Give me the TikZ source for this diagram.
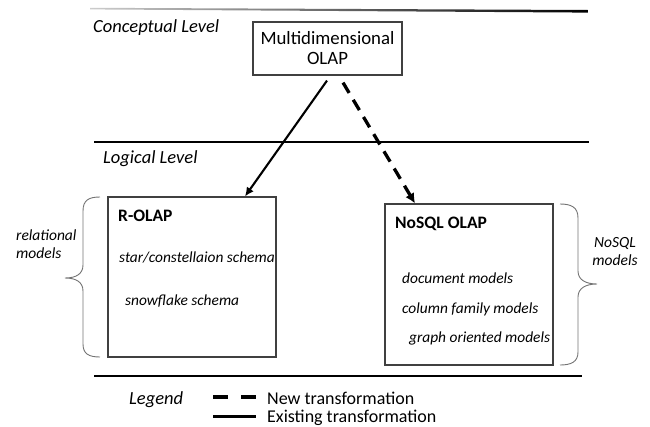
\documentclass[tikz,border=0pt]{standalone}
\usepackage{fontspec}
\setmainfont{Carlito}
\usetikzlibrary{arrows.meta}
\newcommand\fsz[2]{\fontsize{#1}{#2}\selectfont}
\begin{document}
\begin{tikzpicture}[x=1pt,y=-1pt,
  levellbl/.style={inner sep=0pt, anchor=base west, font=\fsz{18.5}{21}\itshape},
  boxtitle/.style={inner sep=0pt, anchor=base west, font=\fsz{17.5}{21}\bfseries},
  item/.style={inner sep=0pt, anchor=base west, font=\fsz{15.4}{18}\itshape},
  side/.style={inner sep=0pt, font=\fsz{15.5}{18}\itshape},
  modelbox/.style={draw=black!75, line width=1.2pt, minimum width=168pt, inner sep=0pt},
  brace/.style={draw=black!55, line width=0.9pt},
  level/.style={line width=1.7pt},
  existing/.style={line width=2.1pt, -{Latex[length=9pt,width=8.5pt]}},
  newtr/.style={line width=3.3pt, dash pattern=on 12pt off 8pt, -{Latex[length=10pt,width=10pt]}},
  legendtxt/.style={inner sep=0pt, anchor=base west, font=\fsz{18}{21}}
]
\useasboundingbox (0,0) rectangle (650,426);

% level separators
\shade[left color=black!20, right color=black] (90,7.8) -- (588,10) -- (588,12.6) -- (90,9.4) -- cycle;
\draw[level] (94,142) -- (589,142);
\draw[line width=2pt] (94,376) -- (582,376);

% level labels
\node[levellbl] (cl) at (93,32) {Conceptual Level};
\node[levellbl] (ll) at (103,163) {Logical Level};

% conceptual box
\node[draw=black!75, line width=1.2pt, minimum width=149pt, minimum height=53pt, inner sep=0pt,
      align=center, font=\fsz{18.8}{20}] (m) at (327.5,48.5) {Multidimensional\\OLAP};

% logical boxes
\node[modelbox, minimum height=160pt] (r) at (192,277) {};
\node[modelbox, minimum height=161pt] (n) at (469,284.5) {};

\node[boxtitle] (rt) at (118,221) {R-OLAP};
\node[item] (r1) at (119,262) {star/constellaion schema};
\node[item] (r2) at (125,305) {snowflake schema};

\node[boxtitle] (nt) at (395,228) {NoSQL OLAP};
\node[item] (n1) at (402,283) {document models};
\node[item] (n2) at (402,313) {column family models};
\node[item] (n3) at (409,342) {graph oriented models};

% braces
\draw[brace] (100,197) .. controls (89,197) and (83,200) .. (83,211) -- (83,265)
  .. controls (83,274) and (76,278) .. (65,278)
  .. controls (76,278) and (83,282) .. (83,291) -- (83,344)
  .. controls (83,354) and (89,357) .. (100,357);
\draw[brace] (560,204) .. controls (571,204) and (578,207) .. (578,218) -- (578,271)
  .. controls (578,280) and (586,284) .. (597,284)
  .. controls (586,284) and (578,288) .. (578,297) -- (578,352)
  .. controls (578,362) and (571,365) .. (560,365);

\node[side, anchor=west, align=left] (rl) at (16,244) {relational\\models};
\node[side, align=center] (nl) at (615,252) {NoSQL\\models};

% transformations
\draw[existing] ([xshift=-0.5pt,yshift=-5pt]m.south) -- ([xshift=53pt]r.north);
\draw[newtr] ([xshift=15.5pt,yshift=-7pt]m.south) -- ([xshift=-54pt]n.north);

% legend
\node[inner sep=0pt, anchor=base west, font=\fsz{18.5}{21}\itshape] (lg) at (129,404) {Legend};
\coordinate (d1) at (213,397);
\coordinate (d2) at (256,397);
\coordinate (s1) at (213,416);
\coordinate (s2) at (256,416);
\draw[line width=3.5pt, dash pattern=on 15pt off 13pt] (d1) -- (d2);
\draw[line width=3pt] (s1) -- (s2);
\node[legendtxt] (lt1) at (267,404) {New transformation};
\node[legendtxt] (lt2) at (267,422) {Existing transformation};
\end{tikzpicture}
\end{document}
